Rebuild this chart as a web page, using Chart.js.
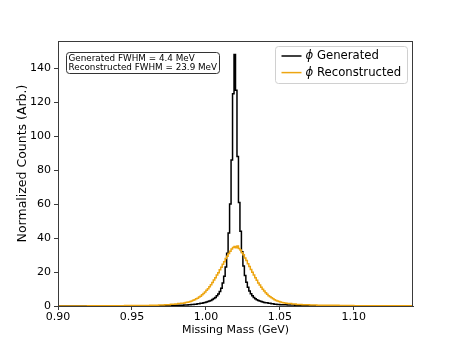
<!DOCTYPE html>
<html>
<head>
<meta charset="utf-8">
<title>Missing Mass</title>
<script src="https://cdn.jsdelivr.net/npm/chart.js@4.4.1/dist/chart.umd.min.js"></script>
<style>
  html, body { margin: 0; padding: 0; background: #fff; }
  #wrap { width: 459px; height: 344px; }
</style>
</head>
<body>
<div id="wrap"><canvas id="myChart" width="459" height="344"></canvas></div>
<script>
// bin left edges (GeV) and counts, last edge closes the histogram
var genEdges = [0.900, 0.950, 0.965, 0.975, 0.980, 0.985, 0.988, 0.990, 0.992, 0.994, 0.996, 0.998,
    0.999, 1.000, 1.001, 1.002, 1.003, 1.004, 1.005, 1.006, 1.007, 1.008, 1.009, 1.010, 1.011,
    1.012, 1.013, 1.014, 1.015, 1.016, 1.017, 1.018, 1.019, 1.020, 1.021, 1.022, 1.023, 1.024,
    1.025, 1.026, 1.027, 1.028, 1.029, 1.030, 1.031, 1.032, 1.033, 1.034, 1.035, 1.036, 1.037,
    1.038, 1.039, 1.040, 1.042, 1.044, 1.046, 1.048, 1.050, 1.055, 1.060, 1.065, 1.070, 1.080,
    1.100, 1.140];
var genCounts = [0.05, 0.1, 0.2, 0.35, 0.45, 0.6, 0.75, 0.9, 1.1, 1.3, 1.6, 1.9,
    2.1, 2.3, 2.6, 2.9, 3.3, 3.8, 4.4, 5.0, 6.0, 7.0, 8.5, 10.5, 13.5,
    17.5, 23, 31, 43, 60, 86, 125, 148, 127, 88, 61, 44, 32,
    23.5, 18, 14, 11, 8.8, 7.2, 6.0, 5.0, 4.3, 3.7, 3.3, 2.9, 2.6,
    2.3, 2.1, 1.9, 1.6, 1.3, 1.1, 0.9, 0.75, 0.55, 0.4, 0.3, 0.2, 0.12,
    0.05];

var recEdges = [0.900, 0.920, 0.935, 0.945, 0.955, 0.962, 0.968, 0.972, 0.976, 0.979, 0.981, 0.983,
    0.985, 0.986, 0.987, 0.988, 0.989, 0.990, 0.991, 0.992, 0.993, 0.994, 0.995, 0.996, 0.997,
    0.998, 0.999, 1.000, 1.001, 1.002, 1.003, 1.004, 1.005, 1.006, 1.007, 1.008, 1.009, 1.010,
    1.011, 1.012, 1.013, 1.014, 1.015, 1.016, 1.017, 1.018, 1.019, 1.020, 1.021, 1.022, 1.023,
    1.024, 1.025, 1.026, 1.027, 1.028, 1.029, 1.030, 1.031, 1.032, 1.033, 1.034, 1.035, 1.036,
    1.037, 1.038, 1.039, 1.040, 1.041, 1.042, 1.043, 1.044, 1.045, 1.046, 1.047, 1.048, 1.049,
    1.050, 1.051, 1.052, 1.053, 1.054, 1.055, 1.058, 1.061, 1.065, 1.070, 1.075, 1.080, 1.090,
    1.100, 1.115, 1.140];
var recCounts = [0.05, 0.1, 0.15, 0.25, 0.35, 0.5, 0.65, 0.8, 1.0, 1.2, 1.4, 1.6,
    1.8, 2.0, 2.2, 2.4, 2.7, 3.0, 3.4, 3.7, 4.2, 4.6, 5.3, 5.8, 6.6,
    7.4, 8.2, 9.2, 10.1, 11.4, 12.5, 13.9, 15.3, 16.6, 18.3, 19.6, 21.3, 22.8,
    24.6, 26.0, 27.9, 29.3, 30.9, 32.2, 33.6, 34.4, 35.0, 34.3, 35.3, 33.8, 33.0,
    31.4, 30.1, 28.2, 26.8, 24.9, 23.3, 21.5, 19.9, 18.2, 16.6, 15.1, 13.6, 12.3,
    11.0, 9.8, 8.8, 7.8, 6.9, 6.1, 5.4, 4.8, 4.2, 3.7, 3.3, 2.9, 2.6,
    2.3, 2.1, 1.9, 1.7, 1.55, 1.4, 1.15, 0.95, 0.8, 0.65, 0.5, 0.4, 0.25,
    0.15, 0.08];

var xTickValues = [0.90, 0.95, 1.00, 1.05, 1.10];
var yTickValues = [0, 20, 40, 60, 80, 100, 120, 140];
var seriesLabels = ['Generated', 'Reconstructed'];
var fwhmLines = ['Generated FWHM = 4.4 MeV', 'Reconstructed FWHM = 23.9 MeV'];
var yTitle = 'Normalized Counts (Arb.)';

document.addEventListener("DOMContentLoaded", function() {
    var FONT = "'DejaVu Sans', sans-serif";
    var BLACK = '#000000';
    var ORANGE = '#eda511';
    var AXIS = '#3a3a3a';

    function toSteps(edges, counts) {
        return edges.map(function(x, i) {
            return { x: x, y: counts[Math.min(i, counts.length - 1)] };
        });
    }

    function roundRect(ctx, x, y, w, h, r) {
        ctx.beginPath();
        ctx.moveTo(x + r, y);
        ctx.lineTo(x + w - r, y);
        ctx.arcTo(x + w, y, x + w, y + r, r);
        ctx.lineTo(x + w, y + h - r);
        ctx.arcTo(x + w, y + h, x + w - r, y + h, r);
        ctx.lineTo(x + r, y + h);
        ctx.arcTo(x, y + h, x, y + h - r, r);
        ctx.lineTo(x, y + r);
        ctx.arcTo(x, y, x + r, y, r);
        ctx.closePath();
    }

    // frame, y title, FWHM box and legend drawn inside the axes
    var overlay = {
        id: 'overlay',
        afterDatasetsDraw: function(chart) {
            var ctx = chart.ctx;
            var a = chart.chartArea;
            ctx.save();
            ctx.strokeStyle = AXIS;
            ctx.lineWidth = 1;
            ctx.strokeRect(a.left + 0.5, a.top + 0.5, a.right - a.left - 1, a.bottom - a.top);

            // y title (sits a bit above the axes centre in the original)
            ctx.save();
            ctx.translate(22.5, (a.top + a.bottom) / 2 - 10);
            ctx.rotate(-Math.PI / 2);
            ctx.fillStyle = '#000000';
            ctx.font = '12.5px ' + FONT;
            ctx.textAlign = 'center';
            ctx.textBaseline = 'middle';
            ctx.fillText(yTitle, 0, 0);
            ctx.restore();

            // FWHM text box
            var bx = a.left + 8.5, by = a.top + 11.5;
            roundRect(ctx, bx, by, 153, 21, 3);
            ctx.fillStyle = '#ffffff';
            ctx.fill();
            ctx.strokeStyle = '#333333';
            ctx.lineWidth = 1;
            ctx.stroke();
            ctx.fillStyle = '#000000';
            ctx.font = '8.8px ' + FONT;
            ctx.textBaseline = 'middle';
            ctx.textAlign = 'left';
            ctx.fillText(fwhmLines[0], bx + 2, by + 5.8);
            ctx.fillText(fwhmLines[1], bx + 2, by + 14.8);

            // legend
            var lw = 132, lh = 37;
            var lx = a.right - 6 - lw + 0.5, ly = a.top + 5.5;
            roundRect(ctx, lx, ly, lw, lh, 3);
            ctx.fillStyle = 'rgba(255,255,255,0.8)';
            ctx.fill();
            ctx.strokeStyle = '#d0d0d0';
            ctx.stroke();
            chart.data.datasets.forEach(function(ds, i) {
                var ry = ly + 9.5 + i * 16.6;
                ctx.strokeStyle = ds.borderColor;
                ctx.lineWidth = 1.5;
                ctx.beginPath();
                ctx.moveTo(lx + 6, ry);
                ctx.lineTo(lx + 26, ry);
                ctx.stroke();
                ctx.fillStyle = '#000000';
                ctx.font = 'italic 11.7px ' + FONT;
                ctx.fillText('\u03d5', lx + 30, ry);
                var pw = ctx.measureText('\u03d5').width;
                ctx.font = '11.7px ' + FONT;
                ctx.fillText(' ' + ds.label, lx + 30 + pw, ry);
            });
            ctx.restore();
        }
    };

    var ctx = document.getElementById('myChart').getContext('2d');
    var chart = new Chart(ctx, {
        type: 'line',
        data: {
            datasets: [{
                label: seriesLabels[0],
                data: toSteps(genEdges, genCounts),
                borderColor: BLACK,
                borderWidth: 1.5,
                stepped: true,
                pointRadius: 0,
                fill: false,
                order: 1
            }, {
                label: seriesLabels[1],
                data: toSteps(recEdges, recCounts),
                borderColor: ORANGE,
                borderWidth: 1.5,
                stepped: true,
                pointRadius: 0,
                fill: false,
                order: 0
            }]
        },
        options: {
            responsive: false,
            animation: false,
            devicePixelRatio: 1,
            layout: { padding: { left: 0, right: 46, top: 41, bottom: 0 } },
            plugins: {
                legend: { display: false },
                tooltip: { enabled: false }
            },
            scales: {
                x: {
                    type: 'linear',
                    min: 0.9,
                    max: 1.14,
                    afterBuildTicks: function(scale) {
                        scale.ticks = xTickValues.map(function(v) { return { value: v }; });
                    },
                    afterFit: function(scale) { scale.height = 38; },
                    grid: {
                        drawOnChartArea: false,
                        drawTicks: true,
                        tickLength: 4,
                        color: AXIS
                    },
                    border: { color: AXIS, width: 1 },
                    ticks: {
                        color: '#000',
                        padding: 1,
                        maxRotation: 0,
                        font: { family: FONT, size: 11 },
                        callback: function(v) { return v.toFixed(2); }
                    },
                    title: {
                        display: true,
                        text: 'Missing Mass (GeV)',
                        color: '#000',
                        font: { family: FONT, size: 11 },
                        padding: { top: 0, bottom: 7 }
                    }
                },
                y: {
                    type: 'linear',
                    min: 0,
                    max: 156,
                    afterBuildTicks: function(scale) {
                        scale.ticks = yTickValues.map(function(v) { return { value: v }; });
                    },
                    afterFit: function(scale) { scale.width = 58; },
                    grid: {
                        drawOnChartArea: false,
                        drawTicks: true,
                        tickLength: 4,
                        color: AXIS
                    },
                    border: { color: AXIS, width: 1 },
                    ticks: {
                        color: '#000',
                        padding: 3,
                        font: { family: FONT, size: 11 }
                    }
                }
            }
        },
        plugins: [overlay]
    });
});
</script>
</body>
</html>
